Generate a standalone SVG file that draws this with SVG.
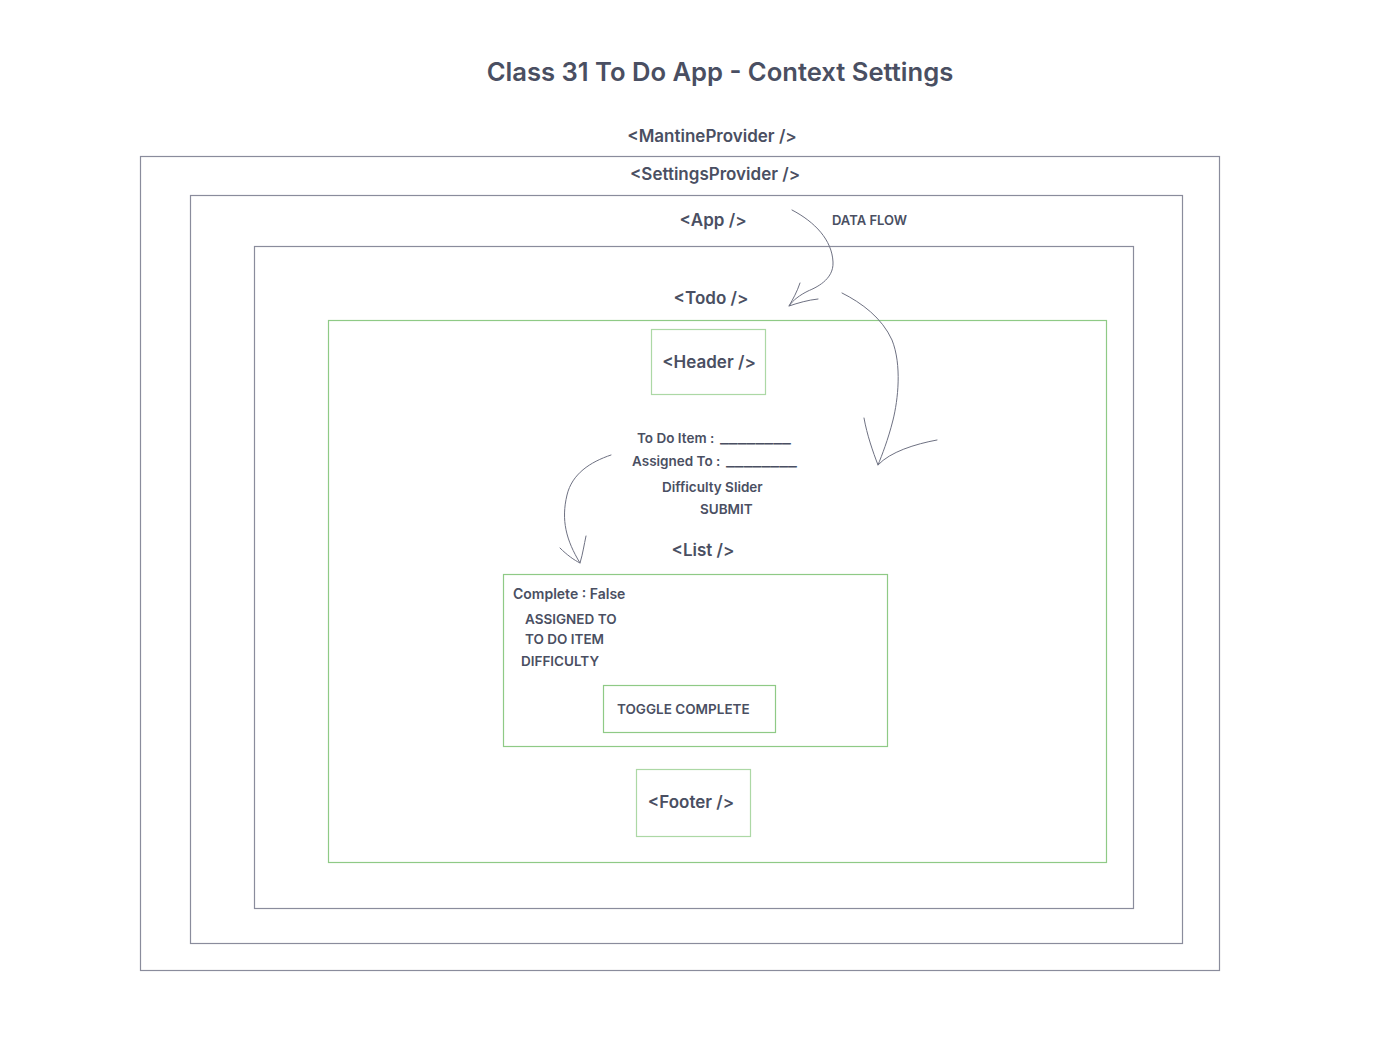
<svg xmlns="http://www.w3.org/2000/svg" width="1377" height="1043" viewBox="0 0 1377 1043">
<style>
text{font-family:Inter,"Noto Sans","Liberation Sans",sans-serif;fill:#4a4f62}
.t{font-size:25.6px;font-weight:600;text-anchor:middle}
.l{font-size:17px;font-weight:600;text-anchor:middle}
.s{font-size:13.5px;font-weight:600}
.box{fill:none;stroke:#8a8c9c;stroke-width:1.2}
.g{fill:none;stroke:#8fca86;stroke-width:1.2}
.gl{fill:none;stroke:#acd8a5;stroke-width:1.2}
.c{fill:none;stroke:#6e7182;stroke-width:1;stroke-linecap:round}
</style>
<rect width="1377" height="1043" fill="#ffffff"/>
<text class="t" x="720" y="81">Class 31 To Do App - Context Settings</text>
<g id="mantine">
<rect class="box" x="140.5" y="156.5" width="1079" height="814" stroke="#a3a4b3"/>
<text class="l" x="712" y="142">&lt;MantineProvider /&gt;</text>
</g>
<g id="settings">
<rect class="box" x="190.5" y="195.5" width="992" height="748"/>
<text class="l" x="715" y="180">&lt;SettingsProvider /&gt;</text>
</g>
<g id="app">
<rect class="box" x="254.5" y="246.5" width="879" height="662"/>
<text class="l" x="713" y="226">&lt;App /&gt;</text>
</g>
<g id="todo">
<rect class="g" x="328.5" y="320.5" width="778" height="542"/>
<text class="l" x="711" y="304">&lt;Todo /&gt;</text>
</g>
<g id="header">
<rect class="gl" x="651.5" y="329.5" width="114" height="65"/>
<text class="l" x="709" y="368">&lt;Header /&gt;</text>
</g>
<g id="form">
<text class="s" x="637" y="443">To Do Item : <tspan x="720" textLength="71" lengthAdjust="spacingAndGlyphs">________</tspan></text>
<text class="s" x="632" y="466">Assigned To : <tspan x="726" textLength="71" lengthAdjust="spacingAndGlyphs">________</tspan></text>
<text class="s" x="662" y="492">Difficulty Slider</text>
<text class="s" x="700" y="514">SUBMIT</text>
</g>
<g id="list">
<rect class="g" x="503.5" y="574.5" width="384" height="172"/>
<text class="l" x="703" y="556">&lt;List /&gt;</text>
<text class="s" x="513" y="599" style="font-size:14px">Complete : False</text>
<text class="s" x="525" y="624">ASSIGNED TO</text>
<text class="s" x="525" y="644">TO DO ITEM</text>
<text class="s" x="521" y="666">DIFFICULTY</text>
</g>
<g id="toggle">
<rect class="g" x="603.5" y="685.5" width="172" height="47"/>
<text class="s" x="617" y="714">TOGGLE COMPLETE</text>
</g>
<g id="footer">
<rect class="gl" x="636.5" y="769.5" width="114" height="67"/>
<text class="l" x="691" y="808">&lt;Footer /&gt;</text>
</g>
<g id="dataflow-label">
<text class="s" x="832" y="225" style="font-size:13px">DATA FLOW</text>
</g>
<g id="connectors">
<path class="c" d="M792 210 C815 222 832 240 833 262 C834 280 815 288 808 291 C800 295 793 300 789 306"/>
<path class="c" d="M800 283 C797 292 793 299 789 306 C798 303 808 300 818 299"/>
<path class="c" d="M842 293 C862 303 882 318 892 340 C902 365 898 400 893 420 C888 440 882 455 878 465"/>
<path class="c" d="M864 418 C867 435 873 452 878 465 C890 452 915 444 937 440"/>
<path class="c" d="M611 455 C590 462 572 474 567 495 C561 520 566 540 580 563"/>
<path class="c" d="M560 548 C567 555 574 560 580 563 C583 553 584 545 586 536"/>
</g>
</svg>
